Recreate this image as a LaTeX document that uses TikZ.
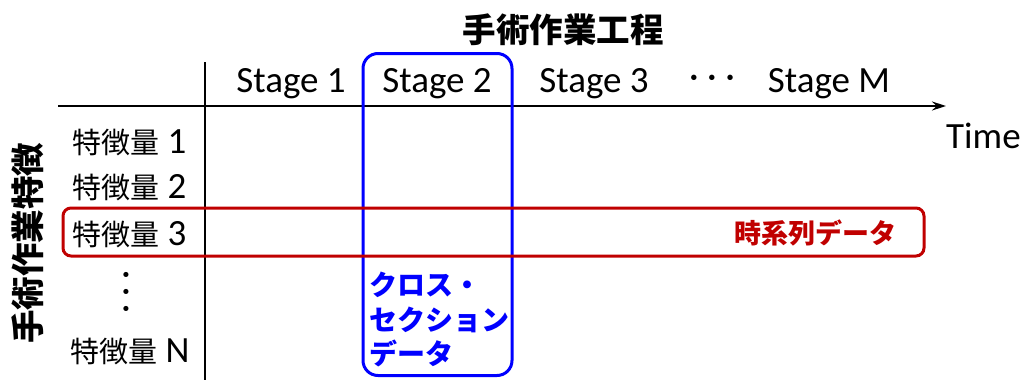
\documentclass[tikz,border=0pt]{standalone}
\usepackage{fontspec}
\setmainfont{Carlito}
\newfontfamily\jp{Noto Sans CJK JP}
\usetikzlibrary{arrows.meta}
\definecolor{myblue}{RGB}{0,0,255}
\definecolor{myred}{RGB}{192,0,0}
\tikzset{
  lat/.style={font=\fontsize{37}{40}\selectfont, inner sep=0pt},
  stagelbl/.style={lat, anchor=base},
  feat/.style={lat, anchor=base west},
  jpb/.style={font=\jp\bfseries\fontsize{33.5}{36}\selectfont, inner sep=0pt},
  axisline/.style={line width=1.5pt},
  bluebox/.style={draw=myblue, line width=3pt, rounded corners=15pt, inner sep=0pt},
  redbox/.style={draw=myred, line width=3pt, rounded corners=8pt, inner sep=0pt},
}
\newcommand{\jpr}{\jp\fontsize{29}{32}\selectfont}
\begin{document}
\begin{tikzpicture}[x=1pt,y=-1pt]
\useasboundingbox (0,0) rectangle (1023,380);
% title
\node[jpb] (title) at (563,30) {手術作業工程};
\node[jpb, rotate=90] (vlabel) at (28,243) {手術作業特徴};
% axes
\coordinate (axs) at (58,106);
\coordinate (axe) at (946,106);
\coordinate (vt) at (205,62);
\coordinate (vb) at (205,380);
\draw[axisline, -{Stealth[length=14pt,width=9pt]}] (axs) -- (axe);
\draw[axisline] (vt) -- (vb);
% stages
\node[stagelbl] (s1) at (291,92) {Stage 1};
\node[stagelbl] (s2) at (437,92) {Stage 2};
\node[stagelbl] (s3) at (594,92) {Stage 3};
\node[lat, font=\fontsize{38}{40}\selectfont] (hdots) at (712,82) {· · ·};
\node[stagelbl] (sm) at (829,92) {Stage M};
\node[lat, anchor=base west] (time) at (946,148) {Time};
% features
\node[feat] (f1) at (72,153) {{\jpr 特徴量} 1};
\node[feat] (f2) at (72,198) {{\jpr 特徴量} 2};
\node[feat] (f3) at (72,245) {{\jpr 特徴量} 3};
\node[lat, font=\fontsize{36}{40}\selectfont, rotate=90] (vdots) at (130,292) {· · ·};
\node[feat] (fn) at (70,362) {{\jpr 特徴量} N};
% boxes
\node[bluebox, minimum width=149pt, minimum height=322pt] (cross) at (437.5,214.5) {};
\node[redbox, minimum width=861pt, minimum height=48pt] (series) at (493.5,232) {};
\node[font=\jp\bfseries\fontsize{27}{30}\selectfont, text=myred, inner sep=0pt, anchor=east] (seriestxt) at (897,233) {時系列データ};
\node[font=\jp\bfseries\fontsize{28}{34.5}\selectfont, text=myblue, inner sep=0pt, anchor=north west, align=left] (crosstxt) at (369,272) {クロス・\\セクション\\データ};
\end{tikzpicture}
\end{document}
